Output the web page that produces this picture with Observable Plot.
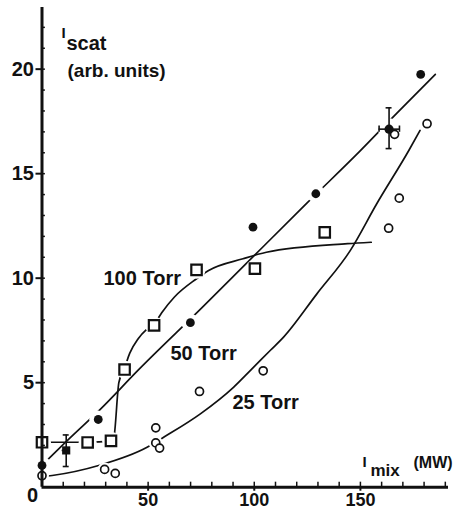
<!DOCTYPE html>
<html><head><meta charset="utf-8">
<script src="https://cdn.jsdelivr.net/npm/d3@7"></script>
<script src="https://cdn.jsdelivr.net/npm/@observablehq/plot@0.6"></script>
<style>html,body{margin:0;padding:0;background:#fff;} #chart svg{display:block}</style>
</head><body><div id="chart"></div>
<script>
// ---- tick values ----
const xTicks = [50, 100, 150];
const yTicks = [5, 10, 15, 20];
const xMinor = d3.range(10, 191, 10);
const yMinor = d3.range(1, 23);

// ---- measured points ----
// 50 Torr (filled circles)
const filled50X = [0, 26.5, 69.9, 99.4, 129.0, 178.4];
const filled50Y = [1.04, 3.24, 7.87, 12.44, 14.04, 19.75];
// 100 Torr (open squares)
const sq100X = [0, 21.5, 32.5, 38.9, 52.8, 72.8, 100.3, 133.2];
const sq100Y = [2.15, 2.14, 2.22, 5.63, 7.74, 10.4, 10.46, 12.19];
// 25 Torr (open circles)
const open25X = [0, 29.5, 34.5, 53.6, 53.6, 55.4, 74.2, 104.2, 163.3, 168.3, 166.1, 181.4];
const open25Y = [0.55, 0.85, 0.66, 2.84, 2.12, 1.87, 4.58, 5.57, 12.39, 13.83, 16.88, 17.39];
// points with error bars
const errX = [11.4, 163.5];
const errY = [1.76, 17.13];
const errXLo = [9.5, 158.8];
const errXHi = [13.4, 168.4];
const errYLo = [0.99, 16.2];
const errYHi = [2.5, 18.15];
const errSymbol = ["square", "circle"];

// ---- hand-drawn guide curves ----
const fit25X = [0, 4.8, 26.7, 49.5, 57.3, 74.6, 90.2, 98.1, 107.5, 113.8, 129.5, 145.2, 157.7, 172.8, 178.1];
const fit25Y = [0.5, 0.56, 1.04, 1.91, 2.39, 3.51, 4.78, 5.58, 6.54, 7.18, 9.25, 11.32, 13.56, 16.11, 17.07];
const fit50X = [0, 13.1, 27.2, 45.3, 75.5, 97.7, 124.9, 150, 167.2, 185.3];
const fit50Y = [1.05, 2.35, 3.7, 5.6, 8.6, 10.85, 13.6, 16.1, 17.9, 19.75];
const fit100X = [0, 21.5, 32.5, 33.8, 36.2, 38.9, 41.3, 45.3, 49.3, 52.8, 56.4, 62.4, 72.5, 78.5, 94.7, 105.7, 144, 155.1];
const fit100Y = [2.15, 2.15, 2.2, 2.35, 5.0, 5.7, 6.4, 7.1, 7.55, 7.8, 8.35, 9.1, 9.95, 10.37, 10.93, 11.24, 11.65, 11.72];

const pts = (xs, ys) => xs.map((x, i) => ({x, y: ys[i]}));
const s50 = pts(filled50X, filled50Y);
const s100 = pts(sq100X, sq100Y);
const s25 = pts(open25X, open25Y);
const c25 = pts(fit25X, fit25Y);
const c50 = pts(fit50X, fit50Y);
const c100 = pts(fit100X, fit100Y);
const err = errX.map((x, i) => ({x, y: errY[i], xlo: errXLo[i], xhi: errXHi[i], ylo: errYLo[i], yhi: errYHi[i], symbol: errSymbol[i]}));

const ink = "#111";
const capX = 1.4, capY = 0.15;
const xMax = 191.5, yMax = 22.95;
const font = "'Liberation Sans', Arial, Helvetica, sans-serif";
const lbl = (t, dx, dy, size) => Plot.text([t], {text: d => d, frameAnchor: "top-left", dx, dy, textAnchor: "start", lineAnchor: "middle", fontSize: size, fontWeight: "bold", fill: ink});

const plot = Plot.plot({
  width: 465, height: 510,
  marginLeft: 41.5, marginRight: 17, marginTop: 7, marginBottom: 23.3,
  x: {domain: [0, xMax], axis: null},
  y: {domain: [0, yMax], axis: null},
  style: {fontFamily: font, fontSize: "19px", fontWeight: "bold", background: "white", color: ink},
  marks: [
    Plot.line(c25, {x: "x", y: "y", curve: "monotone-x", stroke: ink, strokeWidth: 1.7}),
    Plot.line(c50, {x: "x", y: "y", curve: "monotone-x", stroke: ink, strokeWidth: 1.7}),
    Plot.line(c100, {x: "x", y: "y", curve: "monotone-x", stroke: ink, strokeWidth: 1.7}),
    // white gaps around markers
    Plot.dot(s25, {x: "x", y: "y", r: 7, fill: "white"}),
    Plot.dot(s50, {x: "x", y: "y", r: 9, fill: "white"}),
    Plot.dot(s100, {x: "x", y: "y", r: 9, fill: "white"}),
    Plot.dot(err.slice(1), {x: "x", y: "y", r: 11, fill: "white"}),
    // markers
    Plot.dot(s25, {x: "x", y: "y", r: 4, fill: "white", stroke: ink, strokeWidth: 1.7}),
    Plot.dot(s100, {x: "x", y: "y", symbol: "square", r: 5.9, fill: "white", stroke: ink, strokeWidth: 2.2}),
    Plot.dot(s50, {x: "x", y: "y", r: 4.4, fill: ink}),
    // axes
    Plot.ruleX([0], {y1: 0, y2: yMax, stroke: ink, strokeWidth: 3}),
    Plot.ruleY([0], {x1: 0, x2: xMax, stroke: ink, strokeWidth: 3}),
    Plot.ruleY(yMinor, {x1: 0, x2: 1.6, stroke: ink, strokeWidth: 1.5}),
    Plot.ruleX(xMinor, {y1: 0, y2: 0.24, stroke: ink, strokeWidth: 1.5}),
    Plot.axisY({ticks: yTicks, tickSize: 6, tickPadding: 2, tickFormat: d => d, label: null, stroke: ink, strokeWidth: 2, fill: ink, fontSize: 20}),
    Plot.axisX({ticks: xTicks, tickSize: 4, tickPadding: 2, tickFormat: d => d, label: null, stroke: ink, strokeWidth: 2, fill: ink, fontSize: 18}),
    Plot.text([0], {x: 0, y: 0, text: d => String(d), dx: -9.5, dy: 8, fontSize: 20, fontWeight: "bold", fill: ink}),
    // error bars
    Plot.ruleX(err, {x: "x", y1: "ylo", y2: "yhi", stroke: ink, strokeWidth: 1.6}),
    Plot.ruleY(err, {y: "y", x1: "xlo", x2: "xhi", stroke: ink, strokeWidth: 1.6}),
    Plot.ruleY(err, {y: "ylo", x1: d => d.x - capX, x2: d => d.x + capX, stroke: ink, strokeWidth: 1.6}),
    Plot.ruleY(err, {y: "yhi", x1: d => d.x - capX, x2: d => d.x + capX, stroke: ink, strokeWidth: 1.6}),
    Plot.ruleX(err.slice(1), {x: "xlo", y1: d => d.y - capY, y2: d => d.y + capY, stroke: ink, strokeWidth: 1.6}),
    Plot.ruleX(err.slice(1), {x: "xhi", y1: d => d.y - capY, y2: d => d.y + capY, stroke: ink, strokeWidth: 1.6}),
    Plot.dot(err, {x: "x", y: "y", symbol: "symbol", r: 4.6, fill: ink}),
    // axis titles
    lbl("I", 19.5, 26, 15),
    lbl("scat", 24.5, 36, 20),
    lbl("(arb. units)", 25.5, 63, 19),
    lbl("I", 320.5, 455, 15),
    lbl("mix", 328.5, 463, 17),
    lbl("(MW)", 371.5, 455.5, 16),
    // series labels
    lbl("100 Torr", 61.5, 271, 20),
    lbl("50 Torr", 128.5, 346, 20),
    lbl("25 Torr", 190.5, 394.7, 20)
  ]
});
document.getElementById("chart").appendChild(plot);
</script>
</body></html>
